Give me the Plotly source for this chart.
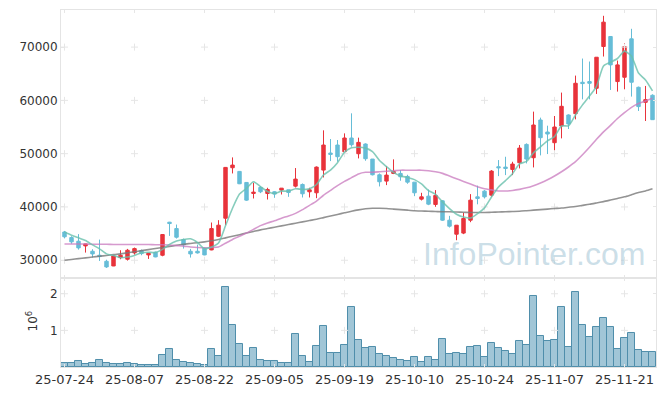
import pandas as pd
import plotly.graph_objects as go

# ---- data ----
holidays = ["2025-08-15", "2025-10-03", "2025-10-06", "2025-10-07", "2025-10-08", "2025-10-09"]
days = [d for d in pd.bdate_range("2025-07-24", "2025-11-27") if d.strftime("%Y-%m-%d") not in holidays]
dates = [d.strftime("%y-%m-%d") for d in days]

open_ = [35300, 34260, 33570, 32690, 31690, 30940, 29810, 28930, 30500, 30190,
         31380, 31820, 31000, 31500, 30940, 37140, 35950, 33880, 31690, 31690,
         32250, 31940, 34510, 37890, 47360, 46670, 44600, 42530, 43660, 42530,
         42850, 43160, 43220, 43910, 44220, 42850, 42660, 46920, 50115, 51620,
         50370, 52940, 49990, 51810, 48990, 46040, 44850, 46290, 46290, 45730,
         44660, 41470, 42030, 40470, 41150, 37520, 34890, 35100, 37520, 41900,
         42970, 42220, 47540, 47480, 47040, 48300, 51740, 49240, 56320, 54060,
         52060, 55190, 57260, 57510, 63400, 63530, 62270, 70110, 71990, 63530,
         64340, 71550, 62460, 59640, 60960]
high = [35500, 34500, 34900, 33100, 32070, 33880, 30100, 30900, 31880, 32130,
        32380, 32010, 31310, 31630, 34890, 37200, 36700, 34070, 32130, 32940,
        32380, 37080, 37520, 47500, 49300, 46730, 44660, 44540, 43910, 43600,
        42970, 43530, 43220, 47300, 44410, 43600, 47610, 54380, 52750, 52560,
        53810, 57570, 53000, 51930, 48990, 46290, 47670, 48930, 46920, 46040,
        44660, 42660, 43280, 43160, 41280, 38330, 36580, 38900, 42410, 44000,
        43160, 46920, 48800, 49420, 48480, 51620, 51930, 57890, 56760, 55250,
        57070, 61460, 57380, 64650, 67850, 67290, 68100, 75870, 71990, 67470,
        70730, 73430, 62590, 62710, 61140]
low = [34100, 33100, 32000, 31440, 30500, 29870, 28560, 28900, 30190, 29940,
       31060, 30940, 30250, 30560, 30750, 34570, 34070, 32190, 30500, 31250,
       30940, 31880, 34390, 36580, 46290, 44290, 41150, 41590, 42600, 41400,
       41720, 42340, 41900, 43660, 41780, 41780, 41650, 45540, 48610, 48490,
       49430, 51310, 49110, 48670, 45920, 43850, 44100, 46170, 44920, 44350,
       42030, 41220, 40340, 40030, 37390, 36140, 33760, 34900, 37140, 40500,
       41590, 41910, 45790, 45980, 45980, 47230, 48170, 47420, 49680, 49930,
       49930, 52870, 54630, 56440, 60200, 60200, 61210, 68230, 61960, 61650,
       62080, 60710, 58010, 56130, 56320]
close = [34400, 33450, 32320, 33070, 31190, 30690, 28750, 30810, 30940, 31880,
         32190, 31250, 31310, 30630, 34830, 36890, 34320, 32880, 31190, 31380,
         31000, 35950, 36580, 47420, 47860, 44350, 41280, 42780, 42850, 43280,
         42410, 43530, 42720, 45230, 42470, 43220, 47480, 51620, 49865, 49430,
         52940, 51680, 52120, 49050, 46040, 44730, 45980, 46670, 45670, 44660,
         42660, 41900, 40530, 42160, 37520, 36390, 36580, 37840, 41280, 41600,
         41900, 46730, 47360, 47230, 48050, 51050, 48990, 55380, 53000, 53690,
         55000, 58890, 55570, 63210, 63150, 63210, 68100, 74680, 66660, 66660,
         70110, 63400, 58830, 60140, 56380]
ma5 = [35300, 34700, 34200, 33700, 32890, 32140, 31200, 30900, 30480, 30610,
       30910, 31410, 31510, 31450, 32040, 32980, 33600, 33910, 34020, 33330,
       32150, 32480, 33220, 36470, 39760, 42430, 43500, 44740, 43820, 42910,
       42520, 42970, 42960, 43430, 43270, 43430, 44220, 46000, 46930, 48320,
       50270, 51110, 51210, 51040, 50370, 48720, 47580, 46490, 45820, 45540,
       45130, 44310, 43080, 42380, 40950, 39700, 38640, 38100, 37920, 38740,
       39830, 41860, 43760, 44950, 46240, 48080, 48540, 50140, 51290, 52420,
       53210, 55190, 55230, 57270, 59160, 60810, 62650, 66470, 67160, 67860,
       69240, 68300, 65130, 63830, 61770]
ma20 = [33050, 33050, 33050, 33050, 33000, 33000, 33000, 32950, 32950, 32950,
        32950, 32950, 32950, 32900, 32900, 32850, 32750, 32650, 32500, 32400,
        32350, 32400, 32500, 33200, 33900, 34500, 35100, 35800, 36500, 37000,
        37400, 37900, 38300, 38800, 39500, 40300, 41100, 42200, 43100, 44000,
        44800, 45500, 46200, 46500, 46500, 46600, 46700, 46800, 46900, 46900,
        46900, 46900, 46800, 46600, 46300, 45800, 45300, 44800, 44300, 43800,
        43400, 43200, 43000, 43000, 43100, 43300, 43600, 44000, 44500, 45100,
        45800, 46600, 47500, 48500, 49800, 51200, 52700, 54100, 55300, 56600,
        57700, 58700, 59400, 59900, 60400]
ma60 = [30000, 30150, 30300, 30450, 30600, 30750, 30900, 31050, 31200, 31400,
        31600, 31800, 32000, 32200, 32400, 32600, 32800, 33000, 33150, 33300,
        33450, 33650, 33900, 34200, 34500, 34800, 35100, 35400, 35700, 35950,
        36200, 36450, 36700, 36950, 37200, 37450, 37700, 38000, 38300, 38600,
        38900, 39200, 39450, 39650, 39750, 39750, 39700, 39600, 39500, 39400,
        39300, 39250, 39200, 39150, 39100, 39100, 39050, 39000, 38950, 38950,
        38950, 39000, 39050, 39100, 39150, 39200, 39300, 39400, 39500, 39600,
        39700, 39800, 39950, 40100, 40300, 40500, 40750, 41000, 41300, 41600,
        41900, 42300, 42700, 43000, 43400]
volume = [0.11, 0.11, 0.16, 0.08, 0.11, 0.19, 0.11, 0.08, 0.08, 0.11,
          0.08, 0.05, 0.05, 0.05, 0.32, 0.49, 0.19, 0.14, 0.11, 0.08,
          0.05, 0.49, 0.30, 2.19, 1.16, 0.62, 0.30, 0.51, 0.19, 0.16,
          0.16, 0.11, 0.11, 0.89, 0.30, 0.14, 0.57, 1.11, 0.38, 0.38,
          0.60, 1.65, 0.73, 0.51, 0.54, 0.35, 0.30, 0.24, 0.19, 0.16,
          0.27, 0.14, 0.27, 0.19, 0.76, 0.35, 0.38, 0.35, 0.54, 0.57,
          0.27, 0.65, 0.51, 0.43, 0.35, 0.70, 0.60, 1.95, 0.86, 0.70,
          0.73, 1.65, 0.54, 2.05, 1.14, 0.81, 1.08, 1.35, 1.08, 0.49,
          0.78, 0.92, 0.46, 0.41, 0.41]
volume = [v * 1e6 for v in volume]

tick_idx = list(range(0, 85, 10))
tick_dates = [dates[i] for i in tick_idx]
price_ticks = [30000, 40000, 50000, 60000, 70000]
price_labels = [str(p) for p in price_ticks]
vol_ticks = [1e6, 2e6]
vol_labels = ["1", "2"]

# ---- figure ----
RED = "#e8333b"
BLUE = "#66bdd7"
GRID = "#e6e6e6"
AX = "#e4e4e4"

fig = go.Figure()

fig.add_trace(go.Candlestick(
    x=dates, open=open_, high=high, low=low, close=close,
    increasing=dict(line=dict(color=RED, width=1), fillcolor=RED),
    decreasing=dict(line=dict(color=BLUE, width=1), fillcolor=BLUE),
    whiskerwidth=0, showlegend=False, xaxis="x", yaxis="y"))

# grid crosses
fig.add_trace(go.Scatter(
    x=[d for d in tick_dates for _ in price_ticks],
    y=[p for _ in tick_dates for p in price_ticks],
    mode="markers", marker=dict(symbol="cross-thin", size=5, line=dict(width=1, color=GRID)),
    hoverinfo="skip", showlegend=False, xaxis="x", yaxis="y"))

fig.add_trace(go.Scatter(x=dates, y=ma60, mode="lines", line=dict(color="rgba(120,120,120,0.8)", width=1.6, shape="spline", smoothing=0.6),
                         showlegend=False, xaxis="x", yaxis="y"))
fig.add_trace(go.Scatter(x=dates, y=ma20, mode="lines", line=dict(color="rgba(200,120,190,0.75)", width=1.6, shape="spline", smoothing=0.6),
                         showlegend=False, xaxis="x", yaxis="y"))
fig.add_trace(go.Scatter(x=dates, y=ma5, mode="lines", line=dict(color="rgba(105,192,172,0.8)", width=1.6, shape="spline", smoothing=0.6),
                         showlegend=False, xaxis="x", yaxis="y"))

fig.add_trace(go.Bar(x=dates, y=volume, marker=dict(color="rgba(138,184,205,0.8)", line=dict(color="#4f8eab", width=1)),
                     width=1.0, showlegend=False, xaxis="x2", yaxis="y2"))
fig.add_trace(go.Scatter(
    x=[d for d in tick_dates for _ in vol_ticks],
    y=[v for _ in tick_dates for v in vol_ticks],
    mode="markers", marker=dict(symbol="cross-thin", size=5, line=dict(width=1, color=GRID)),
    hoverinfo="skip", showlegend=False, xaxis="x2", yaxis="y2"))

split = 0.2493
xcommon = dict(type="category", categoryorder="array", categoryarray=dates, range=[-0.5, 84.5],
               tickvals=tick_dates, showgrid=False, zeroline=False, automargin=False,
               showline=True, linecolor=AX, mirror="ticks", ticks="inside", ticklen=3, tickcolor=GRID)
ycommon = dict(showgrid=False, zeroline=False, tickfont=dict(size=12), automargin=False,
               showline=True, linecolor=AX, mirror="ticks", ticks="inside", ticklen=3, tickcolor=GRID)

fig.update_layout(
    template="none",
    width=665, height=396,
    margin=dict(l=61, r=9, t=10, b=29, pad=0, autoexpand=False),
    paper_bgcolor="white", plot_bgcolor="white",
    font=dict(family="DejaVu Sans", color="#333"),
    bargap=0,
    xaxis=dict(domain=[0, 1], anchor="y", showticklabels=False,
               rangeslider=dict(visible=False), **xcommon),
    yaxis=dict(domain=[split, 1], range=[26670, 76960], tickvals=price_ticks, ticktext=price_labels, **ycommon),
    xaxis2=dict(domain=[0, 1], anchor="y2", matches="x", ticktext=tick_dates,
                tickfont=dict(size=13), **xcommon),
    yaxis2=dict(domain=[0, split], range=[0, 2.43e6], tickvals=vol_ticks, ticktext=vol_labels, **ycommon),
)

# volume axis title (10^6)
fig.add_annotation(text="10<sup>6</sup>", xref="paper", yref="paper", x=-0.049, y=0.13,
                   xanchor="center", yanchor="middle", textangle=-90, showarrow=False,
                   font=dict(size=12, color="#333"))

fig.add_annotation(text="InfoPointer.com", xref="paper", yref="paper", x=0.985, y=split + 0.01,
                   xanchor="right", yanchor="bottom", showarrow=False,
                   font=dict(family="Liberation Sans", size=32, color="rgba(160,195,212,0.55)"))

fig.write_html("out.html", config={"displayModeBar": False},
               post_script="document.body.style.margin='0';")
